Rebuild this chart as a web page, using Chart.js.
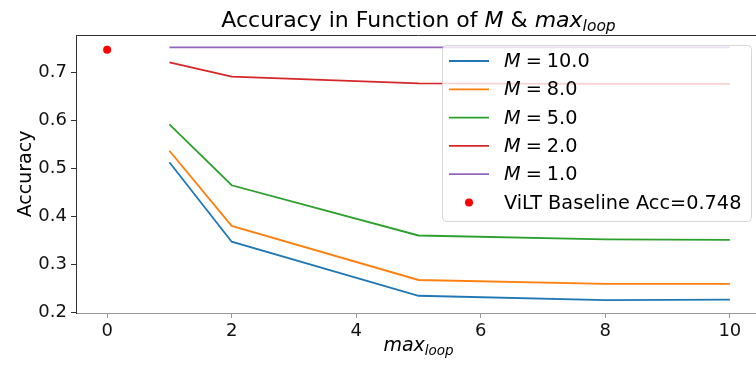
<!DOCTYPE html>
<html>
<head>
<meta charset="utf-8">
<script src="https://cdn.jsdelivr.net/npm/chart.js@4/dist/chart.umd.min.js"></script>
<style>
  html, body { margin: 0; padding: 0; background: #fff; overflow: hidden; }
  #wrap { width: 756px; height: 365px; overflow: hidden; }
</style>
</head>
<body>
<div id="wrap"><canvas id="accChart" width="780" height="365"></canvas></div>
<script>
// x values (max_loop) and accuracy for each M
const maxLoop = [1, 2, 5, 8, 10];
const accM10 = [0.513, 0.347, 0.234, 0.225, 0.226];
const accM8 = [0.537, 0.380, 0.267, 0.259, 0.259];
const accM5 = [0.592, 0.465, 0.360, 0.352, 0.351];
const accM2 = [0.722, 0.692, 0.678, 0.677, 0.677];
const accM1 = [0.753, 0.753, 0.753, 0.753, 0.753];
const mLabels = ['10.0', '8.0', '5.0', '2.0', '1.0'];
const baselineX = [0];
const baselineAcc = [0.748];
const baselineLabel = 'ViLT Baseline Acc=0.748';
const xTicks = [0, 2, 4, 6, 8, 10];
const yTicks = [0.2, 0.3, 0.4, 0.5, 0.6, 0.7];

const colors = ['#1f77b4', '#ff7f0e', '#2ca02c', '#d62728', '#9467bd'];
const FONT = "'DejaVu Sans', sans-serif";

const series = [accM10, accM8, accM5, accM2, accM1];
const datasets = series.map((vals, i) => ({
  label: 'M = ' + mLabels[i],
  data: maxLoop.map((x, j) => ({ x: x, y: vals[j] })),
  borderColor: colors[i],
  backgroundColor: colors[i],
  borderWidth: 1.8,
  pointRadius: 0,
  showLine: true,
  tension: 0,
  order: 10 - i
}));
datasets.push({
  label: baselineLabel,
  data: baselineX.map((x, j) => ({ x: x, y: baselineAcc[j] })),
  borderColor: 'red',
  backgroundColor: 'red',
  pointRadius: 4,
  pointBorderWidth: 0,
  showLine: false,
  order: 0
});

// draw a row of text pieces with their own fonts / vertical shifts
function drawRuns(ctx, runs, x, y, align) {
  let total = 0;
  runs.forEach(r => { ctx.font = r.font; total += ctx.measureText(r.text).width + (r.gap || 0); });
  let cx = align === 'center' ? x - total / 2 : x;
  runs.forEach(r => {
    ctx.font = r.font;
    ctx.fillText(r.text, cx, y + (r.dy || 0));
    cx += ctx.measureText(r.text).width + (r.gap || 0);
  });
}

const decorPlugin = {
  id: 'decor',
  afterDraw(chart) {
    const ctx = chart.ctx;
    const a = chart.chartArea;
    ctx.save();
    // top spine
    ctx.strokeStyle = '#333';
    ctx.lineWidth = 1;
    ctx.beginPath();
    ctx.moveTo(a.left, a.top + 0.5);
    ctx.lineTo(a.right, a.top + 0.5);
    ctx.stroke();

    ctx.fillStyle = '#000';
    ctx.textBaseline = 'alphabetic';
    const mid = (a.left + a.right) / 2;
    // title
    drawRuns(ctx, [
      { text: 'Accuracy in Function of ', font: '22px ' + FONT },
      { text: 'M', font: 'italic 22px ' + FONT },
      { text: ' & ', font: '22px ' + FONT },
      { text: 'max', font: 'italic 22px ' + FONT },
      { text: 'loop', font: 'italic 15.5px ' + FONT, dy: 4 }
    ], mid, 27, 'center');
    // x axis title
    drawRuns(ctx, [
      { text: 'max', font: 'italic 19px ' + FONT },
      { text: 'loop', font: 'italic 13.5px ' + FONT, dy: 4 }
    ], mid, 351, 'center');
    // y axis title
    ctx.save();
    ctx.translate(31, (a.top + a.bottom) / 2);
    ctx.rotate(-Math.PI / 2);
    ctx.font = '19px ' + FONT;
    ctx.textAlign = 'center';
    ctx.fillText('Accuracy', 0, 0);
    ctx.restore();

    // legend box
    const lx = 442, ly = 45, lw = 309, lh = 176, r = 4;
    ctx.beginPath();
    ctx.roundRect(lx + 0.5, ly + 0.5, lw, lh, r);
    ctx.fillStyle = 'rgba(255,255,255,0.8)';
    ctx.fill();
    ctx.strokeStyle = 'rgba(204,204,204,0.8)';
    ctx.lineWidth = 1;
    ctx.stroke();

    const rowY0 = 61, rowStep = 28.3;
    ctx.textBaseline = 'middle';
    chart.data.datasets.forEach((ds, i) => {
      const y = rowY0 + i * rowStep;
      if (ds.showLine) {
        ctx.strokeStyle = ds.borderColor;
        ctx.lineWidth = 1.8;
        ctx.beginPath();
        ctx.moveTo(449, y);
        ctx.lineTo(489, y);
        ctx.stroke();
        ctx.fillStyle = '#000';
        drawRuns(ctx, [
          { text: 'M', font: 'italic 19.3px ' + FONT, gap: 5 },
          { text: '=', font: '19.3px ' + FONT, gap: 5 },
          { text: mLabels[i], font: '19.3px ' + FONT }
        ], 504, y + 1, 'left');
      } else {
        ctx.fillStyle = ds.backgroundColor;
        ctx.beginPath();
        ctx.arc(469, y, 4, 0, Math.PI * 2);
        ctx.fill();
        ctx.fillStyle = '#000';
        ctx.font = '19.3px ' + FONT;
        ctx.fillText(ds.label, 504, y + 1);
      }
    });
    ctx.restore();
  }
};

new Chart(document.getElementById('accChart'), {
  type: 'scatter',
  data: { datasets: datasets },
  options: {
    responsive: false,
    animation: false,
    layout: { padding: { top: 35, right: 19, left: 0, bottom: 0 } },
    plugins: { legend: { display: false }, tooltip: { enabled: false }, title: { display: false } },
    scales: {
      x: {
        type: 'linear',
        min: -0.5,
        max: 10.5,
        afterBuildTicks: s => { s.ticks = xTicks.map(v => ({ value: v })); },
        afterFit: s => { s.height = 52; },
        grid: { drawOnChartArea: false, drawTicks: true, tickLength: 5, color: '#999', tickWidth: 1 },
        border: { color: '#999', width: 1 },
        ticks: { font: { family: FONT, size: 18 }, color: '#111', padding: 3, maxRotation: 0, callback: v => String(v) }
      },
      y: {
        type: 'linear',
        min: 0.198,
        max: 0.779,
        afterBuildTicks: s => { s.ticks = yTicks.map(v => ({ value: v })); },
        afterFit: s => { s.width = 76; },
        grid: { drawOnChartArea: false, drawTicks: true, tickLength: 5, color: '#333', tickWidth: 1 },
        border: { color: '#333', width: 1 },
        ticks: { font: { family: FONT, size: 18 }, color: '#111', padding: 4, callback: v => v.toFixed(1) }
      }
    }
  },
  plugins: [decorPlugin]
});
</script>
</body>
</html>
